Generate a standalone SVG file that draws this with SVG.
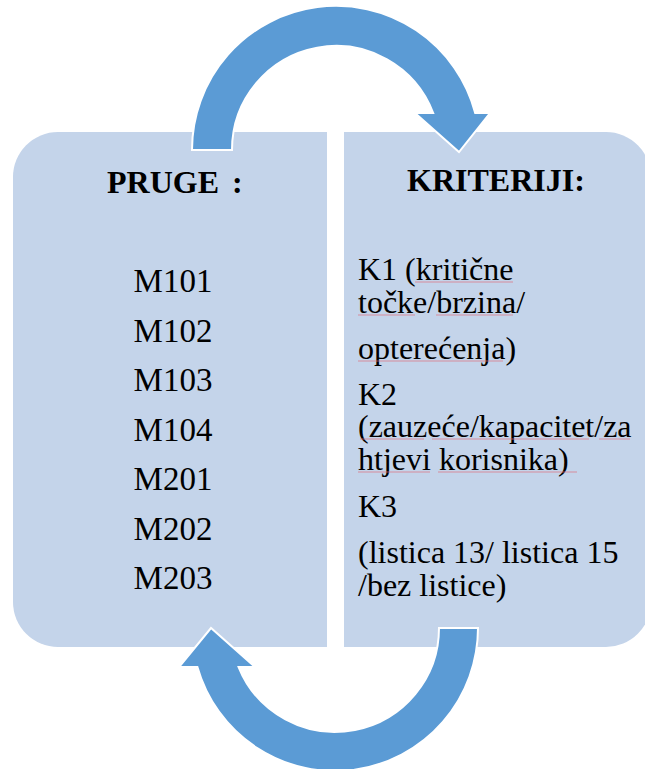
<svg xmlns="http://www.w3.org/2000/svg" width="645" height="769" viewBox="0 0 645 769">
<style>
.box{fill:#C4D4EA}
.arrow{fill:#5B9BD5;stroke:#FFFFFF;stroke-width:2;stroke-linejoin:miter}
.t{font-family:"Liberation Serif","Times New Roman",serif;font-size:32px;fill:#000}
.m{font-family:"Liberation Serif","Times New Roman",serif;font-size:33px;fill:#000;text-anchor:middle}
.h{font-family:"Liberation Serif","Times New Roman",serif;font-size:32px;font-weight:bold;fill:#000}
.sp{stroke:#E0707C;stroke-width:1;opacity:0.7;fill:none}
</style>
<rect width="645" height="769" fill="#FFFFFF"/>
<g id="node-pruge">
<path class="box" d="M58,132 H327 V647 H58 A45,45 0 0 1 13,602 V177 A45,45 0 0 1 58,132 Z"/>
<text class="h" y="193"><tspan x="107">PRUGE</tspan><tspan x="232">:</tspan></text>
<text class="m" x="173" y="292">M101</text>
<text class="m" x="173" y="341.5">M102</text>
<text class="m" x="173" y="391">M103</text>
<text class="m" x="173" y="440.5">M104</text>
<text class="m" x="173" y="490">M201</text>
<text class="m" x="173" y="539.5">M202</text>
<text class="m" x="173" y="589">M203</text>
</g>
<g id="node-kriteriji">
<path class="box" d="M344,132 H606 A45,45 0 0 1 651,177 V602 A45,45 0 0 1 606,647 H344 Z"/>
<text class="h" x="407" y="191">KRITERIJI:</text>
<text class="t" x="358" y="280">K1 (kritične</text>
<text class="t" x="358" y="313">točke/brzina/</text>
<text class="t" x="358" y="359">opterećenja)</text>
<text class="t" x="358" y="405">K2</text>
<text class="t" x="358" y="437">(zauzeće/kapacitet/za</text>
<text class="t" x="358" y="470">htjevi korisnika)</text>
<text class="t" x="358" y="517">K3</text>
<text class="t" x="358" y="563">(listica 13/ listica 15</text>
<text class="t" x="358" y="596">/bez listice)</text>
<g class="sp">
<path d="M415,282 H513"/>
<path d="M358,315 H415"/>
<path d="M436,315 H513"/>
<path d="M358,361 H503"/>
<path d="M360,439 H424"/>
<path d="M432,439 H589"/>
<path d="M599,439 H630"/>
<path d="M358,472 H430"/>
<path d="M438,472 H577"/>
</g>
</g>
<g id="connectors">
<path id="arrow-top" class="arrow" d="M192,150 A144,144 0 0 1 475.2,113 L490,113 L459,152 L415,113 L433.2,113 A104,104 0 0 0 232,150 Z"/>
<path id="arrow-bottom" class="arrow" d="M478,628 A143,143 0 0 1 197.4,667 L179,667 L211,628 L255,667 L238.6,667 A104,104 0 0 0 439,628 Z"/>
</g>
</svg>
